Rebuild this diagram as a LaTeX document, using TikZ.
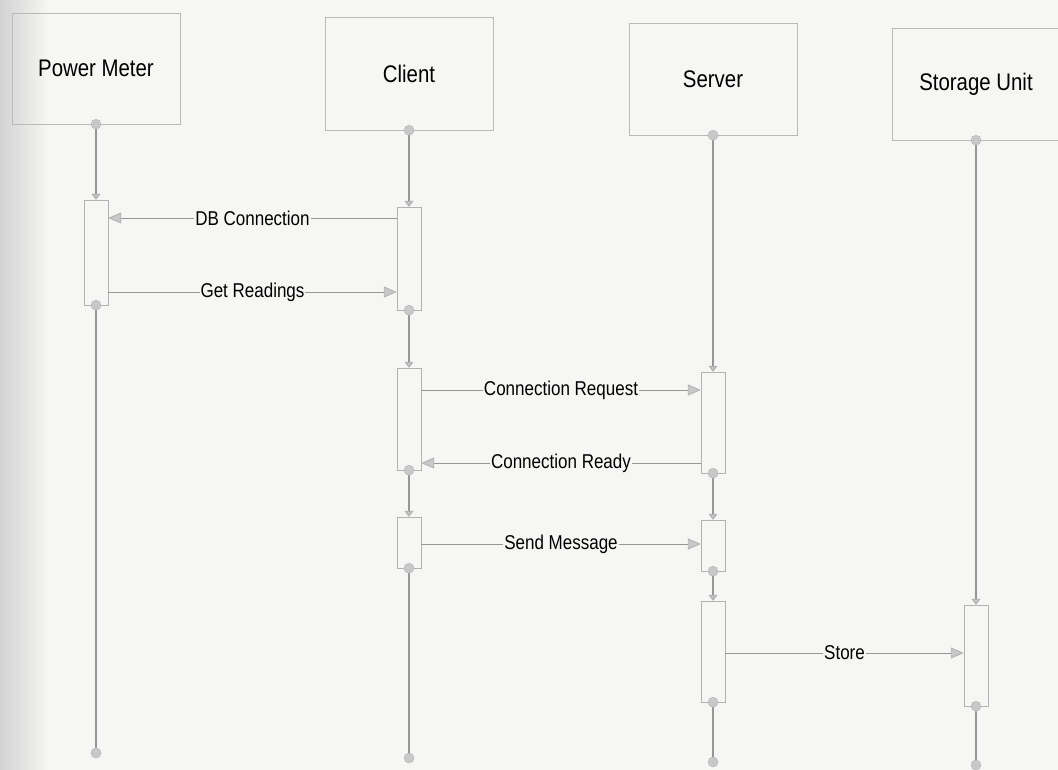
\documentclass[tikz,border=0pt]{standalone}
\usepackage{fontspec}
\setmainfont{Liberation Sans}
\newfontfamily\narrowfont[FakeStretch=0.85]{Liberation Sans}
\usetikzlibrary{arrows.meta}

\definecolor{paper}{RGB}{246,246,244}
\definecolor{lifegray}{RGB}{150,150,150}
\definecolor{tipgray}{RGB}{200,200,200}

\tikzset{
  head/.style={draw=gray!55, minimum width=168pt, inner sep=0pt,
    font=\narrowfont\fontsize{24}{28}\selectfont},
  act/.style={draw=gray!60, fill=paper, minimum width=24pt, inner sep=0pt},
  life/.style={draw=lifegray, line width=1.2pt},
  lifetip/.style={life, -{Triangle[width=9pt,length=6pt,fill=tipgray,color=gray!60]}},
  msg/.style={draw=lifegray, line width=0.9pt,
    -{Triangle[width=11pt,length=13pt,fill=tipgray,color=gray!60]}},
  lbl/.style={fill=paper, inner sep=1pt, font=\narrowfont\fontsize{20}{24}\selectfont}
}

\begin{document}
\begin{tikzpicture}[x=1pt,y=-1pt]
\useasboundingbox (0,0) rectangle (1058,770);
\clip (0,0) rectangle (1058,770);
\fill[paper] (0,0) rectangle (1058,770);
\shade[left color=gray!35, right color=paper] (0,0) rectangle (48,770);

% heads
\node[head, minimum height=111pt] (pm) at (96,68.5) {Power Meter};
\node[head, minimum height=113pt] (cl) at (409,73.5) {Client};
\node[head, minimum height=112pt] (sv) at (713,79) {Server};
\node[head, minimum height=112pt] (su) at (976,84) {Storage Unit};

% activations
\node[act, minimum height=105pt] (pa1) at (96,252.5) {};
\node[act, minimum height=103pt] (ca1) at (409,258.5) {};
\node[act, minimum height=102pt] (ca2) at (409,419) {};
\node[act, minimum height=51pt] (ca3) at (409,542.5) {};
\node[act, minimum height=101pt] (sa1) at (713,422.5) {};
\node[act, minimum height=51pt] (sa2) at (713,545.5) {};
\node[act, minimum height=101pt] (sa3) at (713,651.5) {};
\node[act, minimum height=101pt] (sua1) at (976,655.5) {};

\coordinate (pmend) at (96,753);
\coordinate (clend) at (409,758);
\coordinate (svend) at (713,762);
\coordinate (suend) at (976,765);

% lifelines
\draw[lifetip] (pm.south) -- (pa1.north);
\draw[life] (pa1.south) -- (pmend);
\draw[lifetip] (cl.south) -- (ca1.north);
\draw[lifetip] (ca1.south) -- (ca2.north);
\draw[lifetip] (ca2.south) -- (ca3.north);
\draw[life] (ca3.south) -- (clend);
\draw[lifetip] (sv.south) -- (sa1.north);
\draw[lifetip] (sa1.south) -- (sa2.north);
\draw[lifetip] (sa2.south) -- (sa3.north);
\draw[life] (sa3.south) -- (svend);
\draw[lifetip] (su.south) -- (sua1.north);
\draw[life] (sua1.south) -- (suend);

\foreach \p in {pm.south,pa1.south,pmend,cl.south,ca1.south,ca2.south,ca3.south,clend,
  sv.south,sa1.south,sa2.south,sa3.south,svend,su.south,sua1.south,suend}
  \filldraw[fill=tipgray, draw=gray!60] (\p) circle (5pt);

% messages
\draw[msg] (ca1.west |- 0,218) -- node[lbl] {DB Connection} (pa1.east |- 0,218);
\draw[msg] (pa1.east |- 0,292) -- node[lbl] {Get Readings} (ca1.west |- 0,292);
\draw[msg] (ca2.east |- 0,390) -- node[lbl] {Connection Request} (sa1.west |- 0,390);
\draw[msg] (sa1.west |- 0,463) -- node[lbl] {Connection Ready} (ca2.east |- 0,463);
\draw[msg] (ca3.east |- 0,544) -- node[lbl] {Send Message} (sa2.west |- 0,544);
\draw[msg] (sa3.east |- 0,653) -- node[lbl] {Store} (sua1.west |- 0,653);
\end{tikzpicture}
\end{document}
